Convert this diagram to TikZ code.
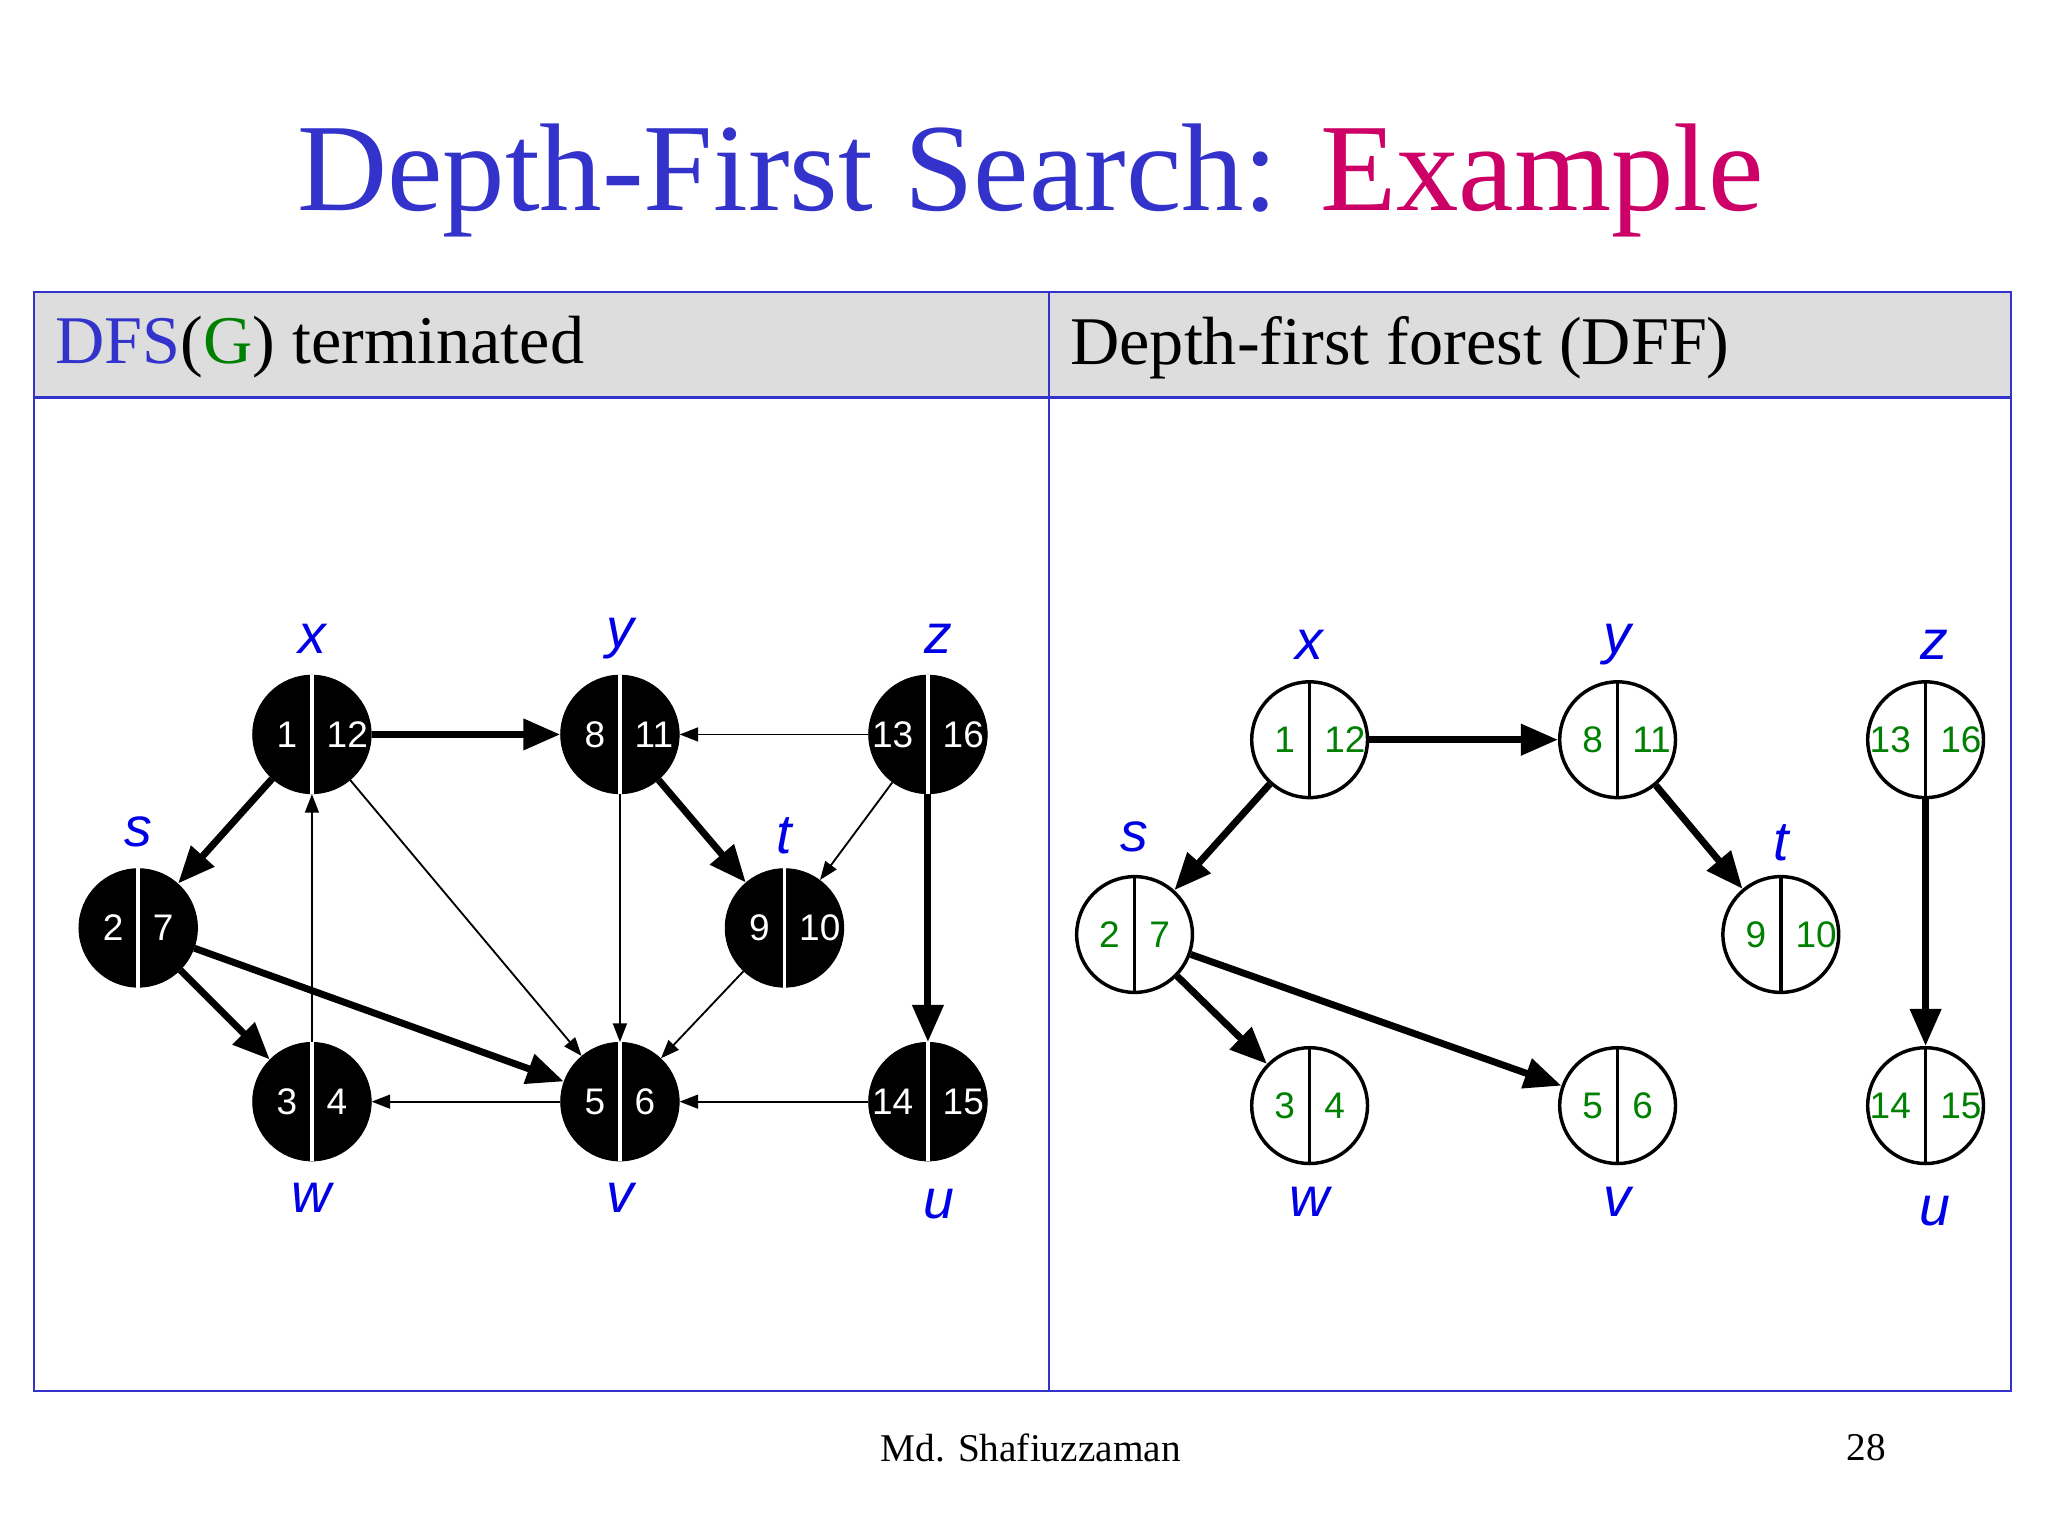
\documentclass[tikz,border=0pt]{standalone}
\usepackage{fontspec}
\setmainfont{Liberation Serif}
\newfontfamily\arial{Liberation Sans}
\usetikzlibrary{arrows.meta}
\definecolor{tblue}{RGB}{51,51,204}
\definecolor{tred}{RGB}{204,0,102}
\definecolor{tgreen}{RGB}{0,128,0}
\definecolor{hgray}{RGB}{221,221,221}
\definecolor{lblue}{RGB}{0,0,230}
\tikzset{
 bnode/.style={circle,fill=black,draw=black,minimum size=1.8cm,inner sep=0pt},
 wnode/.style={circle,fill=white,draw=black,line width=1.5pt,minimum size=1.76cm,inner sep=0pt},
 lbl/.style={font=\arial\itshape\fontsize{24}{24}\selectfont,text=lblue},
 num/.style={font=\arial\fontsize{16}{16}\selectfont},
 thk/.style={line width=3pt,-{Triangle[length=16pt,width=13pt]}},
 thn/.style={line width=0.8pt,-{Triangle[length=8pt,width=6pt]}},
}
\newcommand{\bvert}[5]{% name x y a b
 \node[bnode] (#1) at (#2,#3) {};
 \draw[white,line width=1.5pt] (#1.north) -- (#1.south);
 \node[num,text=white,anchor=east] at (#2-5,#3) {#4};
 \node[num,text=white,anchor=west] at (#2+5,#3) {#5};}
\newcommand{\wvert}[5]{%
 \node[wnode] (#1) at (#2,#3) {};
 \draw[black,line width=1.5pt] (#1.north) -- (#1.south);
 \node[num,text=tgreen,anchor=east] at (#2-5,#3) {#4};
 \node[num,text=tgreen,anchor=west] at (#2+5,#3) {#5};}
\begin{document}
\begin{tikzpicture}[x=0.02cm,y=-0.02cm]
\useasboundingbox (0,0) rectangle (1556,1167);
\node[font=\fontsize{54}{54}\selectfont] (title) at (783,137) {\textcolor{tblue}{Depth-First Search:} \textcolor{tred}{Example}};
\fill[hgray] (26,222) rectangle (1528,302);
\draw[tblue,line width=1pt] (26,222) rectangle (1528,1057);
\draw[tblue,line width=1pt] (26,302) -- (1528,302);
\draw[tblue,line width=1pt] (797,222) -- (797,1057);
\node[anchor=west,font=\fontsize{29.5}{30}\selectfont] (h1) at (36,264) {\textcolor{tblue}{DFS}(\textcolor{tgreen}{G}) terminated};
\node[anchor=west,font=\fontsize{29.5}{30}\selectfont] (h2) at (807,264) {Depth-first forest (DFF)};
% left graph
\bvert{x}{237}{558}{1}{12}
\bvert{y}{471}{558}{8}{11}
\bvert{z}{705}{558}{13}{16}
\bvert{s}{105}{705}{2}{7}
\bvert{t}{596}{705}{9}{10}
\bvert{w}{237}{837}{3}{4}
\bvert{v}{471}{837}{5}{6}
\bvert{u}{705}{837}{14}{15}
\node[lbl] at (237,485) {x};
\node[lbl] at (471,485) {y};
\node[lbl] at (713,485) {z};
\node[lbl] at (105,632) {s};
\node[lbl] at (596,635) {t};
\node[lbl] at (237,910) {w};
\node[lbl] at (471,910) {v};
\node[lbl] at (713,915) {u};
\draw[thk] (x) -- (y);
\draw[thk] (x) -- (s);
\draw[thk] (s) -- (w);
\draw[thk] (s) -- (v);
\draw[thk] (y) -- (t);
\draw[thk] (z) -- (u);
\draw[thn] (z) -- (y);
\draw[thn] (z) -- (t);
\draw[thn] (w) -- (x);
\draw[thn] (x) -- (v);
\draw[thn] (y) -- (v);
\draw[thn] (t) -- (v);
\draw[thn] (v) -- (w);
\draw[thn] (u) -- (v);
% right forest
\wvert{x2}{995}{562}{1}{12}
\wvert{y2}{1229}{562}{8}{11}
\wvert{z2}{1463}{562}{13}{16}
\wvert{s2}{862}{710}{2}{7}
\wvert{t2}{1353}{710}{9}{10}
\wvert{w2}{995}{840}{3}{4}
\wvert{v2}{1229}{840}{5}{6}
\wvert{u2}{1463}{840}{14}{15}
\node[lbl] at (995,490) {x};
\node[lbl] at (1229,490) {y};
\node[lbl] at (1470,490) {z};
\node[lbl] at (862,636) {s};
\node[lbl] at (1353,640) {t};
\node[lbl] at (995,913) {w};
\node[lbl] at (1229,913) {v};
\node[lbl] at (1470,920) {u};
\draw[thk] (x2) -- (y2);
\draw[thk] (x2) -- (s2);
\draw[thk] (s2) -- (w2);
\draw[thk] (s2) -- (v2);
\draw[thk] (y2) -- (t2);
\draw[thk] (z2) -- (u2);
\node[font=\fontsize{17}{17}\selectfont] (auth) at (783,1100) {Md. Shafiuzzaman};
\node[font=\fontsize{17}{17}\selectfont] (pg) at (1418,1100) {28};
\end{tikzpicture}
\end{document}
